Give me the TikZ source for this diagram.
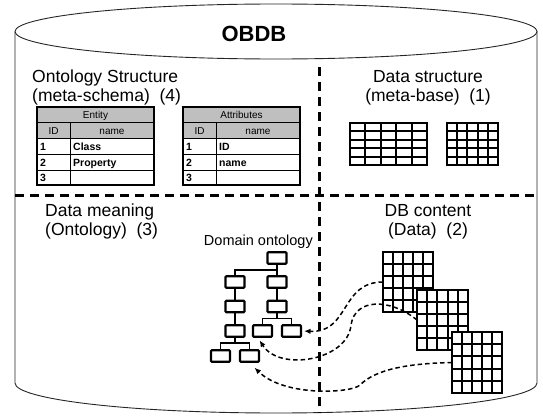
\documentclass[tikz,border=0pt]{standalone}
\usepackage{fontspec}
\setmainfont{Liberation Sans}
\usetikzlibrary{arrows.meta,calc}

\tikzset{
  wall/.style={line width=0.9pt, draw=black!85},
  sepline/.style={line width=3pt, dash pattern=on 9pt off 6pt},
  areatext/.style={font=\fontsize{17.5}{20}\selectfont, inner sep=0pt},
  titletext/.style={font=\fontsize{22}{26}\selectfont\bfseries, inner sep=0pt},
  smalltext/.style={font=\fontsize{14.5}{17}\selectfont, inner sep=0pt},
  hdrfill/.style={fill=black!25},
  cellline/.style={line width=0.8pt},
  tframe/.style={line width=1.8pt},
  hdrtext/.style={font=\fontsize{10}{12}\selectfont, inner sep=0pt, anchor=base},
  celltext/.style={font=\fontsize{10.5}{12}\selectfont\bfseries, inner sep=0pt, anchor=base west},
  gridbox/.style={draw, fill=white, line width=2.4pt, inner sep=0pt, outer sep=0pt},
  gridline/.style={line width=2pt},
  obox/.style={draw, line width=2.1pt, minimum width=19pt, minimum height=11.5pt, inner sep=0pt, rounded corners=0.8pt},
  tline/.style={line width=1.6pt},
  conn/.style={line width=1.5pt, dash pattern=on 4.5pt off 3pt, -{Latex[length=6.5pt,width=5.5pt]}},
}

% a two-column table with a grey title row and a grey column-head row
\newcommand{\mktable}[5]{%
\begin{scope}[shift={(#1,0)}]
  \fill[hdrfill] (0,107) rectangle (117,138);
  \draw[cellline] (0,122) -- (117,122) (0,138) -- (117,138) (0,154) -- (117,154)
                  (0,170) -- (117,170) (33,122) -- (33,185);
  \draw[tframe] (0,107) rectangle (117,185);
  \node[hdrtext] (#2title) at (58.5,118.5) {#3};
  \node[hdrtext] (#2id) at (16.5,134) {ID};
  \node[hdrtext] (#2name) at (75,134) {name};
  \node[celltext] (#2n1) at (3,150) {1};
  \node[celltext] (#2v1) at (36,150) {#4};
  \node[celltext] (#2n2) at (3,166) {2};
  \node[celltext] (#2v2) at (36,166) {#5};
  \node[celltext] (#2n3) at (3,181.5) {3};
\end{scope}}

% a framed 5 x 5 grid node
\newcommand{\mkgrid}[5]{%
  \node[gridbox, minimum width=#4pt, minimum height=#5pt] (#1) at (#2,#3) {};
  \foreach \k in {1,...,4}{
    \draw[gridline] ($(#1.north west)!\k/5!(#1.north east)$) -- ($(#1.south west)!\k/5!(#1.south east)$);
    \draw[gridline] ($(#1.north west)!\k/5!(#1.south west)$) -- ($(#1.north east)!\k/5!(#1.south east)$);
  }
  \node[draw, line width=2.4pt, inner sep=0pt, outer sep=0pt, minimum width=#4pt, minimum height=#5pt] at (#2,#3) {};
}

\begin{document}
\begin{tikzpicture}[x=1pt,y=-1pt]
\useasboundingbox (0,0) rectangle (543,415);

% database cylinder
\draw[wall] (276,31.5) ellipse [x radius=261pt, y radius=27.5pt];
\draw[wall] (15,31.5) -- (15,383) arc[start angle=180, end angle=360, x radius=261pt, y radius=30pt] -- (537,31.5);
\node[titletext] (obdb) at (254,34) {OBDB};

% quadrant separators
\draw[sepline] (15,195) -- (537,195);
\draw[sepline] (319,67) -- (319,413);

% quadrant titles
\node[areatext, anchor=base west] (os1) at (32,82) {Ontology Structure};
\node[areatext, anchor=base west] (os2) at (32,101) {(meta-schema)~~(4)};
\node[areatext, anchor=base] (ds1) at (428,82) {Data structure};
\node[areatext, anchor=base] (ds2) at (428,101) {(meta-base)~~(1)};
\node[areatext, anchor=base west] (dm1) at (45,216) {Data meaning};
\node[areatext, anchor=base west] (dm2) at (45,235) {(Ontology)~~(3)};
\node[areatext, anchor=base] (dc1) at (428,216) {DB content};
\node[areatext, anchor=base] (dc2) at (428,235) {(Data)~~(2)};
\node[smalltext, anchor=base east] (dom) at (313,245) {Domain ontology};

% meta-schema tables
\mktable{37}{ent}{Entity}{Class}{Property}
\mktable{183}{att}{Attributes}{ID}{name}

% meta-base grids
\mkgrid{mb1}{388.5}{144}{77}{42}
\mkgrid{mb2}{472.5}{144}{51}{42}

% data grids
\mkgrid{gA}{408}{282}{50}{60}
\mkgrid{gB}{442.5}{320}{51}{60}
\mkgrid{gC}{477}{362.5}{50}{61}

% domain ontology tree
\node[obox] (root) at (277,258) {};
\node[obox] (L1) at (235,282) {};
\node[obox] (L2) at (235,306.5) {};
\node[obox] (L3) at (235,331) {};
\node[obox] (R1) at (277,282) {};
\node[obox] (R2) at (277,306.5) {};
\node[obox] (S1) at (262.5,331) {};
\node[obox] (S2) at (291.5,331) {};
\node[obox] (B1) at (220.5,356) {};
\node[obox] (B2) at (249.5,356) {};

\draw[tline] (root.south) -- ++(0,5) -| (L1.north);
\draw[tline] (root.south) -- (R1.north);
\draw[tline] (L1.south) -- (L2.north);
\draw[tline] (L2.south) -- (L3.north);
\draw[tline] (R1.south) -- (R2.north);
\draw[tline] (R2.south) -- ++(0,5) -| (S1.north);
\draw[tline] (R2.south) -- ++(0,5) -| (S2.north);
\draw[tline] (L3.south) -- ++(0,5) -| (B1.north);
\draw[tline] (L3.south) -- ++(0,5) -| (B2.north);

% data-to-concept links
\coordinate (w2) at (351,325);
\coordinate (w3) at (360,385);
\draw[conn, shorten >=2pt] (gA.west) .. controls +(-43,0) and +(48,2) .. (S2.east);
\draw[conn, shorten >=3pt] (gB.west) .. controls +(-27,-22) and +(4,-27) .. (w2)
      .. controls +(-3,35) and +(22,34.5) .. ([xshift=6pt]S1.south west);
\draw[conn, shorten >=7pt] (gC.west) .. controls +(-47,1) and +(15,-15) .. (w3)
      .. controls +(-8,8) and +(35.5,34.5) .. (B2.south);
\end{tikzpicture}
\end{document}
